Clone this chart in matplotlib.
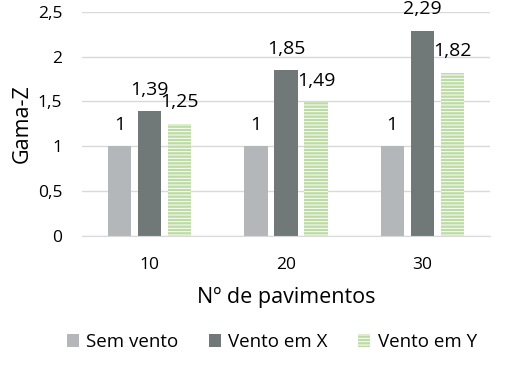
import matplotlib
matplotlib.use("Agg")
import matplotlib.pyplot as plt
import numpy as np

plt.rcParams['font.family'] = ['Open Sans', 'DejaVu Sans']
plt.rcParams['hatch.linewidth'] = 0.7

categories = ['10', '20', '30']
series_names = ['Sem vento', 'Vento em X', 'Vento em Y']
sem_vento = [1, 1, 1]
vento_x = [1.39, 1.85, 2.29]
vento_y = [1.25, 1.49, 1.82]
yticks = [0, 0.5, 1, 1.5, 2, 2.5]
ytick_labels = ['0', '0,5', '1', '1,5', '2', '2,5']

fig = plt.figure(figsize=(5.08, 3.72), dpi=100)
ax = fig.add_axes([0.161, 0.366, 0.804, 0.602])

x = np.arange(len(categories))
w = 0.17
off = 0.22
b1 = ax.bar(x - off, sem_vento, w, color='#b4b7b9', label=series_names[0], zorder=2)
b2 = ax.bar(x, vento_x, w, color='#707878', label=series_names[1], zorder=2)
b3 = ax.bar(x + off, vento_y, w, color='#bddba4', edgecolor='white', linewidth=0,
            hatch='-----', label=series_names[2], zorder=2)

def fmt(v):
    s = ('%.2f' % v).rstrip('0').rstrip('.')
    return s.replace('.', ',')

for bars, vals in [(b1, sem_vento), (b2, vento_x), (b3, vento_y)]:
    for r, v in zip(bars, vals):
        ax.annotate(fmt(v), (r.get_x() + r.get_width() / 2, v), xytext=(0, 9),
                    textcoords='offset points', ha='center', va='bottom', fontsize=14)

ax.set_xlim(-0.5, 2.5)
ax.set_ylim(0, 2.5)
ax.set_yticks(yticks)
ax.set_yticklabels(ytick_labels, fontsize=12.5)
ax.set_xticks(x)
ax.set_xticklabels(categories, fontsize=12.5)
ax.tick_params(axis='y', length=0, pad=14)
ax.tick_params(axis='x', length=0, pad=15)
ax.yaxis.grid(True, color='#d9d9d9', linewidth=1, zorder=0)
for s in ['top', 'right', 'left']:
    ax.spines[s].set_visible(False)
ax.spines['bottom'].set_color('#d9d9d9')
ax.set_ylabel('Gama-Z', fontsize=15.5, labelpad=4)
ax.set_xlabel('Nº de pavimentos', fontsize=15.5, labelpad=10)

leg = fig.legend(handles=[b1, b2, b3], labels=series_names, loc='center',
                 bbox_to_anchor=(0.535, 0.08), ncol=3, frameon=False, fontsize=13.5,
                 handlelength=0.65, handleheight=0.65, handletextpad=0.4, columnspacing=1.6)

fig.savefig('out.png', dpi=100)
